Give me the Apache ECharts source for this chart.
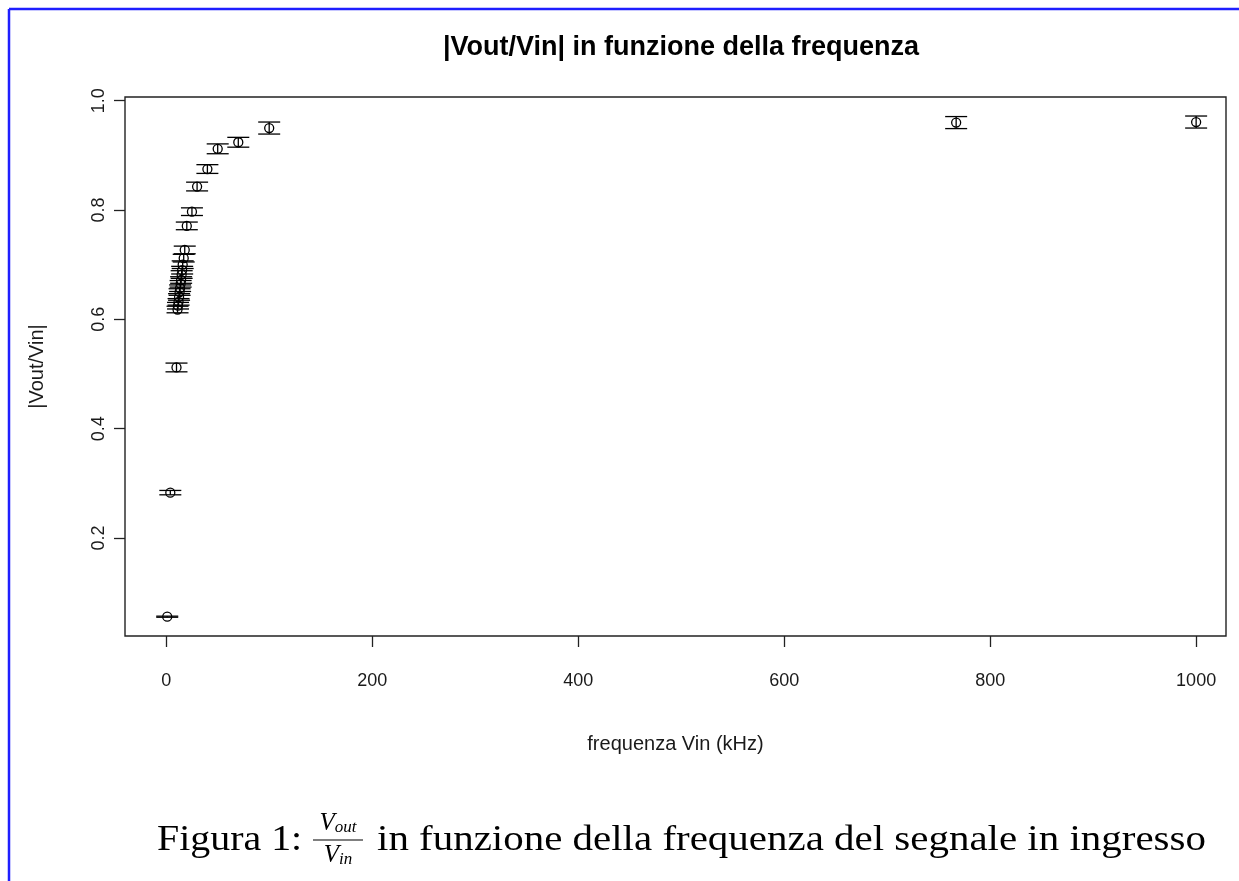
<!DOCTYPE html>
<html>
<head>
<meta charset="utf-8">
<script src="https://cdn.jsdelivr.net/npm/echarts@6/dist/echarts.min.js"></script>
<style>
  html, body { margin: 0; padding: 0; background: #fff; }
  #chart { width: 1239px; height: 881px; }
</style>
</head>
<body>
<div id="chart"></div>
<script>
// Misure: frequenza del segnale in ingresso (kHz), |Vout/Vin| e relativa incertezza
const freqKHz = [1, 4, 10, 11, 11.5, 12, 12.5, 13, 13.5, 14, 14.5, 15, 15.5, 16, 17, 18,
                 20, 25, 30, 40, 50, 70, 100, 767, 1000];
const gain    = [0.056, 0.283, 0.512, 0.618, 0.625, 0.632, 0.641, 0.650, 0.657, 0.665, 0.672,
                 0.682, 0.690, 0.700, 0.712, 0.727, 0.771, 0.797, 0.843, 0.875, 0.912, 0.924,
                 0.950, 0.960, 0.961];
const gainErr = [0.001, 0.004, 0.008, 0.006, 0.006, 0.006, 0.006, 0.006, 0.006, 0.006, 0.006,
                 0.007, 0.007, 0.007, 0.007, 0.007, 0.007, 0.007, 0.008, 0.008, 0.009, 0.009,
                 0.011, 0.011, 0.011];

const xTicks = [0, 200, 400, 600, 800, 1000];
const yTicks = [0.2, 0.4, 0.6, 0.8, 1.0];

const titleText = '|Vout/Vin| in funzione della frequenza';
const xName = 'frequenza Vin (kHz)';
const yName = '|Vout/Vin|';

const points = freqKHz.map((f, i) => [f, gain[i], gainErr[i]]);

const chart = echarts.init(document.getElementById('chart'), null, { renderer: 'canvas' });

const axisFont = { fontFamily: 'Liberation Sans, Arial, sans-serif', fontSize: 18, color: '#1a1a1a' };
const nameFont = { fontFamily: 'Liberation Sans, Arial, sans-serif', fontSize: 20, color: '#1a1a1a' };
const capHalf = 11;
const serif = '"Liberation Serif", "Times New Roman", serif';

chart.setOption({
  animation: false,
  backgroundColor: '#fff',
  title: {
    text: titleText,
    left: 676,
    top: 29,
    textAlign: 'center',
    textStyle: { fontFamily: 'Liberation Sans, Arial, sans-serif', fontWeight: 'bold', fontSize: 27, color: '#000' }
  },
  grid: {
    left: 125, top: 97, right: 13, bottom: 245,
    show: true, borderColor: '#222', borderWidth: 1.4, backgroundColor: 'transparent'
  },
  xAxis: {
    type: 'value',
    min: -40, max: 1029,
    name: xName,
    nameLocation: 'middle',
    nameGap: 98,
    nameTextStyle: nameFont,
    axisLine: { show: false, onZero: false },
    splitLine: { show: false },
    axisTick: { show: true, inside: false, length: 11, lineStyle: { color: '#222', width: 1.3 }, customValues: xTicks },
    axisLabel: Object.assign({ margin: 36, customValues: xTicks, formatter: v => String(v) }, axisFont)
  },
  yAxis: {
    type: 'value',
    min: 0.0207, max: 1.0068,
    name: yName,
    nameLocation: 'middle',
    nameGap: 78,
    nameRotate: 90,
    nameTextStyle: nameFont,
    axisLine: { show: false, onZero: false },
    splitLine: { show: false },
    axisTick: { show: true, inside: false, length: 11, lineStyle: { color: '#222', width: 1.3 }, customValues: yTicks },
    axisLabel: Object.assign({ margin: 17, rotate: 90, customValues: yTicks, formatter: v => v.toFixed(1) }, axisFont)
  },
  series: [{
    type: 'custom',
    data: points,
    encode: { x: 0, y: 1 },
    renderItem: function (params, api) {
      const x = api.value(0), y = api.value(1), e = api.value(2);
      const c = api.coord([x, y]);
      const top = api.coord([x, y + e])[1];
      const bot = api.coord([x, y - e])[1];
      const line = { stroke: '#000', lineWidth: 1.3 };
      return {
        type: 'group',
        children: [
          { type: 'line', shape: { x1: c[0], y1: top, x2: c[0], y2: bot }, style: line },
          { type: 'line', shape: { x1: c[0] - capHalf, y1: top, x2: c[0] + capHalf, y2: top }, style: line },
          { type: 'line', shape: { x1: c[0] - capHalf, y1: bot, x2: c[0] + capHalf, y2: bot }, style: line },
          { type: 'circle', shape: { cx: c[0], cy: c[1], r: 4.5 }, style: { stroke: '#000', fill: 'transparent', lineWidth: 1.3 } }
        ]
      };
    }
  }],
  graphic: [
    // cornice blu della pagina
    { type: 'line', shape: { x1: 9, y1: 9, x2: 1239, y2: 9 }, style: { stroke: '#1f1fff', lineWidth: 2.5 } },
    { type: 'line', shape: { x1: 9, y1: 9, x2: 9, y2: 881 }, style: { stroke: '#1f1fff', lineWidth: 2.5 } },
    // didascalia
    { type: 'text', x: 157, y: 841, scaleX: 1.14, style: { text: 'Figura 1:', font: '35px ' + serif, fill: '#000', textVerticalAlign: 'middle' } },
    { type: 'text', x: 338, y: 836, style: {
        text: '{v|V}{s|out}', textAlign: 'center', textVerticalAlign: 'bottom',
        rich: { v: { font: 'italic 25px ' + serif, fill: '#000' }, s: { font: 'italic 17px ' + serif, fill: '#000', padding: [8, 0, 0, 0] } } } },
    { type: 'line', shape: { x1: 313, y1: 840, x2: 363, y2: 840 }, style: { stroke: '#000', lineWidth: 1.2 } },
    { type: 'text', x: 338, y: 843, style: {
        text: '{v|V}{s|in}', textAlign: 'center', textVerticalAlign: 'top',
        rich: { v: { font: 'italic 25px ' + serif, fill: '#000' }, s: { font: 'italic 17px ' + serif, fill: '#000', padding: [8, 0, 0, 0] } } } },
    { type: 'text', x: 377, y: 841, scaleX: 1.17, style: { text: 'in funzione della frequenza del segnale in ingresso', font: '35px ' + serif, fill: '#000', textVerticalAlign: 'middle' } }
  ]
});
</script>
</body>
</html>
